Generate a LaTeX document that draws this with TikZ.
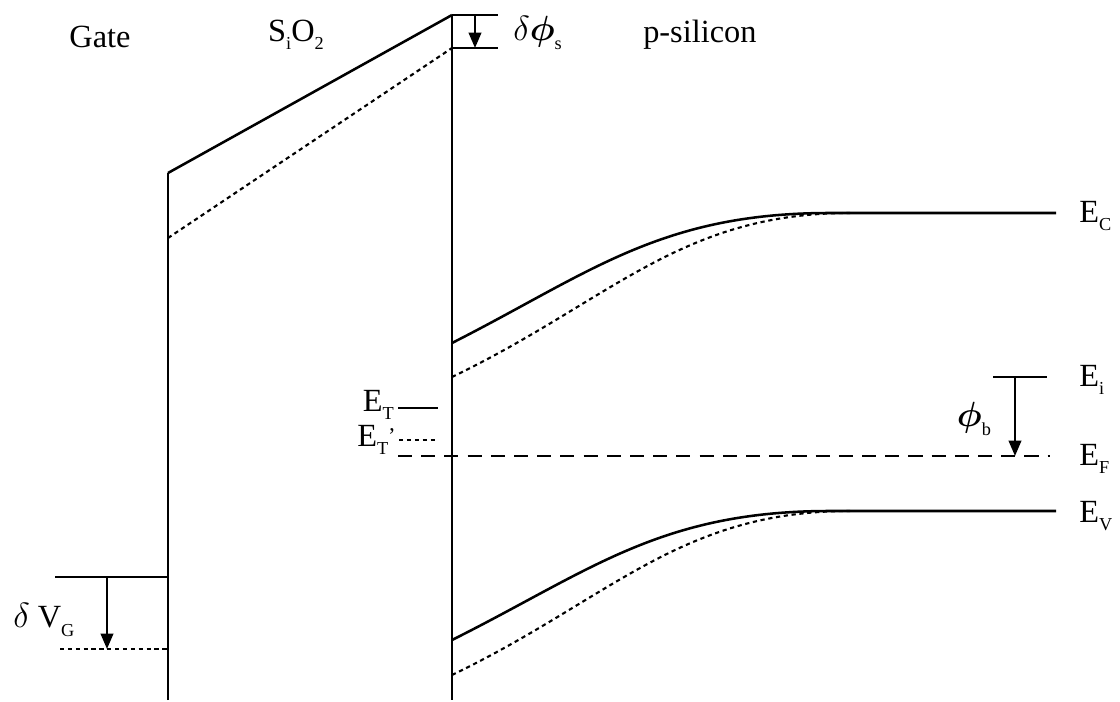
\documentclass[tikz,border=0pt]{standalone}
\usepackage{amsmath}
\usepackage{fontspec}
\setmainfont{Liberation Serif}
\usetikzlibrary{positioning, arrows.meta}
\newcommand{\lsub}[1]{\raisebox{-0.55ex}{\fontsize{13}{13}\selectfont #1}}
\tikzset{
  band/.style={line width=1.8pt, black},
  shifted/.style={line width=1.5pt, black, dash pattern=on 3pt off 2.6pt},
  fermi/.style={line width=1.6pt, black, dash pattern=on 10pt off 6.5pt},
  drop/.style={-{Triangle[length=11pt,width=9pt]}, line width=1.5pt, black},
  lbl/.style={font=\fontsize{23}{26}\selectfont, inner sep=0pt}
}

\begin{document}
\begin{tikzpicture}[x=0.025cm, y=-0.025cm]
  \useasboundingbox (0,0) rectangle (1120,702);

  % region labels
  \node[lbl] (gate) at (100,37) {Gate};
  \node[lbl] (oxide) at (296,35) {S\lsub{i}O\lsub{2}};
  \node[lbl, anchor=west] (psi) at (643,35) {p-silicon};

  % gate side
  \draw[band] (55,577) -- (168,577);
  \draw[shifted] (60,649) -- (168,649);
  \draw[band] (168,700) -- (168,173);
  \coordinate (vgtop) at (107,577);
  \coordinate (vgbot) at (107,649);
  \draw[drop] (vgtop) -- (vgbot);
  \node[lbl, anchor=west] (dvg) at (13,620) {$\delta$ V\lsub{G}};

  % oxide
  \draw[band] (168,173) -- (452,15);
  \draw[shifted] (168,238) -- (452,48);
  \draw[band] (452,15) -- (452,700);

  % surface potential shift
  \draw[band] (452,15) -- (498,15);
  \draw[band] (452,48) -- (498,48);
  \coordinate (pstop) at (475,15);
  \coordinate (psbot) at (475,48);
  \draw[drop] (pstop) -- (psbot);
  \node[lbl, anchor=west] (dps) at (513,33) {$\delta\boldsymbol{\phi}$\lsub{s}};

  % conduction band
  \draw[band] (452,343) .. controls (590,273) and (660,213) .. (830,213) -- (1056,213);
  \draw[shifted] (452,377) .. controls (610,301) and (680,213) .. (850,213);
  \node[lbl, anchor=west] (ec) at (1079,216) {E\lsub{C}};

  % valence band
  \draw[band] (452,640) .. controls (590,571) and (660,511) .. (830,511) -- (1056,511);
  \draw[shifted] (452,675) .. controls (610,599) and (680,511) .. (850,511);
  \node[lbl, anchor=west] (ev) at (1079,516) {E\lsub{V}};

  % intrinsic and Fermi levels
  \draw[band] (993,377) -- (1047,377);
  \node[lbl, anchor=west] (ei) at (1079,380) {E\lsub{i}};
  \draw[fermi] (398,456) -- (1050,456);
  \node[lbl, anchor=west] (ef) at (1079,459) {E\lsub{F}};
  \coordinate (phitop) at (1015,377);
  \coordinate (phibot) at (1015,456);
  \draw[drop] (phitop) -- (phibot);
  \node[lbl] (phib) at (974,419) {$\boldsymbol{\phi}$\lsub{b}};

  % trap levels
  \draw[band] (398,408) -- (438,408);
  \node[lbl, anchor=east] (et) at (394,405) {E\lsub{T}};
  \draw[shifted] (399,440) -- (438,440);
  \node[lbl, anchor=east] (etp) at (396,440) {E\lsub{T}\raisebox{0.2ex}{\fontsize{16}{16}\selectfont '}};
\end{tikzpicture}
\end{document}
